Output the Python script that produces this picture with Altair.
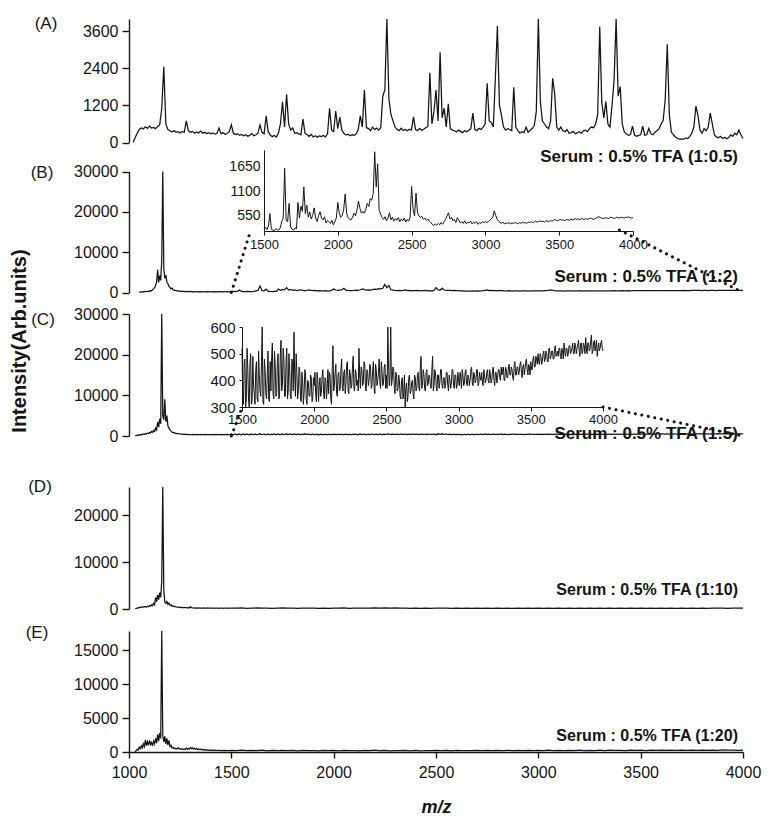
import altair as alt
import pandas as pd

FONT = "Liberation Sans"
INK = "#141414"

# ---------------- m/z grids ----------------
MZ_A = list(range(1020, 4001, 10))
MZ_B_LOW = list(range(1050, 1500, 5))
MZ_LOW = list(range(1030, 1500, 5))
MZ_INSET = list(range(1500, 4001, 10))
MZ_INSET_MID = list(range(1505, 4000, 10))
MZ_HIGH = list(range(1500, 4001, 25))

# ---------------- intensities ----------------
INT_A = [
    0, 150, 300, 420, 470, 440, 510, 460,
    530, 470, 490, 450, 520, 580, 1100, 2450, 600, 420,
    380, 340, 390, 330, 350, 310, 360, 330, 700, 380,
    330, 360, 300, 340, 310, 370, 300, 330, 290, 320,
    280, 310, 270, 300, 470, 280, 320, 260, 300, 350,
    570, 300, 260, 280, 230, 260, 220, 250, 200, 230,
    290, 220, 250, 300, 570, 330, 280, 860, 350, 240,
    190, 230, 180, 300, 600, 1320, 500, 1560, 600, 400,
    470, 300, 320, 280, 250, 760, 300, 250, 200, 260,
    180, 220, 170, 210, 190, 230, 180, 280, 1110, 400,
    350, 1020, 450, 820, 400, 300, 240, 270, 220, 250,
    230, 280, 420, 860, 500, 1700, 480, 450, 380, 500,
    420, 470, 400, 480, 1500, 1700, 4000, 1400, 900, 700,
    500, 420, 380, 460, 390, 420, 380, 430, 400, 830,
    420, 380, 460, 400, 430, 480, 520, 2260, 600, 1000,
    1700, 700, 2920, 800, 1110, 500, 1250, 450, 400, 380,
    340, 400, 360, 320, 380, 350, 400, 450, 950, 420,
    380, 460, 420, 500, 600, 1920, 700, 650, 500, 2080,
    3775, 1200, 870, 500, 400, 450, 420, 380, 1790, 500,
    380, 300, 350, 320, 500, 330, 400, 450, 550, 1000,
    4000, 1300, 700, 600, 500, 450, 700, 2080, 1570, 500,
    400, 500, 380, 350, 420, 300, 320, 360, 280, 310,
    350, 300, 380, 400, 350, 450, 500, 480, 600, 900,
    3750, 1300, 800, 1330, 600, 500, 1200, 2000, 4000, 1500,
    1810, 600, 340, 280, 230, 260, 530, 240, 200, 230,
    250, 530, 230, 260, 460, 280, 250, 330, 380, 450,
    600, 720, 1400, 3180, 900, 340, 250, 180, 130, 110,
    120, 100, 150, 130, 200, 300, 500, 1180, 870, 400,
    300, 450, 380, 500, 950, 600, 250, 180, 150, 200,
    130, 170, 120, 160, 250, 200, 300, 250, 400, 250,
    130,
]

INT_B_LOW = [
    0, 150, 100, 200, 150, 250, 200, 300, 250, 350,
    300, 500, 400, 700, 900, 1200, 1800, 2600, 5600, 2500,
    4200, 3000, 8000, 30000, 6000, 3500, 4300, 2600, 2200, 1500,
    1300, 900, 1100, 700, 600, 500, 450, 400, 380, 350,
    300, 350, 280, 300, 250, 300, 220, 250, 200, 230,
    200, 250, 180, 220, 160, 240, 200, 170, 230, 180,
    210, 160, 240, 190, 150, 220, 180, 200, 160, 230,
    190, 170, 210, 160, 200, 180, 220, 170, 250, 190,
    160, 210, 180, 230, 190, 170, 220, 180, 200, 240,
]

INT_B_INSET = [
    260, 300, 240, 320, 600, 250, 230, 220, 260, 240,
    230, 280, 420, 500, 1620, 450, 420, 830, 300, 250,
    230, 280, 260, 850, 500, 770, 650, 1200, 600, 790,
    520, 640, 480, 560, 730, 500, 420, 560, 640, 500,
    460, 530, 390, 450, 420, 380, 450, 350, 420, 500,
    850, 620, 520, 560, 700, 1040, 600, 510, 470, 460,
    520, 610, 550, 680, 880, 720, 610, 650, 610, 700,
    830, 760, 940, 900, 1050, 1990, 1200, 1720, 680, 590,
    510, 470, 530, 440, 500, 620, 460, 520, 430, 490,
    450, 510, 420, 480, 440, 500, 410, 470, 430, 520,
    1210, 700, 550, 1060, 620, 550, 510, 540, 470, 500,
    450, 480, 430, 400, 360, 330, 370, 340, 380, 350,
    400, 360, 420, 470, 550, 620, 480, 520, 440, 470,
    400, 510, 450, 390, 420, 380, 440, 370, 410, 390,
    430, 370, 410, 380, 420, 360, 400, 380, 420, 390,
    430, 400, 420, 450, 480, 520, 660, 560, 470, 430,
    400, 380, 410, 370, 390, 380, 400, 370, 390, 380,
    400, 390, 370, 400, 380, 410, 390, 400, 380, 410,
    400, 420, 400, 410, 430, 410, 420, 440, 420, 430,
    410, 440, 430, 420, 450, 430, 440, 470, 450, 440,
    460, 470, 450, 460, 440, 470, 460, 450, 480, 460,
    470, 490, 470, 480, 460, 490, 480, 470, 490, 470,
    480, 500, 490, 470, 480, 500, 520, 530, 510, 500,
    490, 500, 510, 490, 500, 520, 510, 490, 500, 520,
    510, 500, 520, 510, 500, 520, 510, 530, 510, 500,
    510,
]

INT_C_LOW = [
    0, 100, 200, 150, 300, 250, 400, 300, 500, 400,
    600, 500, 700, 600, 900, 700, 1100, 900, 1400, 1100,
    2000, 1500, 3500, 2200, 4200, 3000, 30000, 5000, 4000, 9000,
    3500, 5000, 2500, 2000, 1500, 1200, 1000, 800, 900, 700,
    600, 650, 550, 500, 520, 450, 480, 400, 430, 380,
    400, 350, 380, 330, 360,
    330, 380, 300, 370, 320, 390, 310, 360, 330, 400,
    300, 350, 320, 380, 310, 370, 330, 360, 300, 390,
    320, 350, 310, 380, 330, 370, 300, 360, 320, 390,
    310, 350, 330, 380, 300, 370, 320, 360, 340,
]

# inset C, values at 1500, 1510, ... 4000
INT_C_INSET = [
    520, 310, 480, 330, 450, 300, 500, 320, 380, 310,
    470, 320, 420, 340, 600, 310, 440, 330, 510, 320,
    360, 540, 330, 460, 350, 500, 340, 550, 380, 480,
    340, 520, 360, 450, 330, 470, 580, 340, 430, 360,
    440, 320, 400, 350, 420, 310, 390, 340, 410, 330,
    380, 350, 430, 320, 410, 360, 440, 330, 400, 370,
    350, 420, 310, 530, 380, 460, 340, 430, 370, 480,
    360, 440, 390, 470, 350, 420, 380, 490, 360, 430,
    400, 520, 370, 440, 390, 460, 360, 430, 400, 450,
    380, 470, 350, 440, 400, 480, 370, 430, 390, 460,
    420, 600, 380, 600, 400, 440, 350, 420, 370, 400,
    330, 410, 350, 300, 390, 340, 420, 360, 400, 330,
    410, 370, 430, 360, 490, 380, 420, 360, 440, 390,
    410, 370, 490, 380, 430, 360, 420, 390, 440, 370,
    410, 380, 430, 360, 400, 390, 440, 370, 420, 380,
    400, 430, 370, 420, 390, 440, 380, 410, 400, 450,
    380, 420, 400, 440, 390, 410, 430, 380, 420, 400,
    440, 390, 420, 400, 450, 380, 430, 410, 440, 400,
    420, 450, 400, 440, 410, 460, 420, 440, 400, 470,
    420, 450, 430, 470, 410, 460, 440, 480, 420, 450,
    470, 440, 490, 450, 480, 500, 460, 490, 470, 510,
    480, 500, 470, 520, 490, 510, 480, 530, 500, 490,
    520, 480, 510, 540, 490, 520, 500, 530, 510, 540,
    500, 530, 520, 550, 490, 540, 510, 530, 560, 500,
    540, 520, 570, 510, 550, 530, 490, 540, 520, 550,
    510,
]

# inset C, values at 1505, 1515, ... 3995
INT_C_INSET_MID = [
    340, 470, 300, 520, 330, 460, 310, 490, 350, 440,
    330, 510, 360, 470, 320, 480, 350, 420, 330, 470,
    480, 350, 510, 340, 470, 330, 490, 360, 520, 340,
    470, 330, 500, 340, 480, 360, 420, 500, 330, 450,
    330, 430, 310, 440, 330, 400, 340, 420, 320, 410,
    430, 320, 400, 380, 340, 420, 350, 410, 330, 440,
    430, 330, 450, 360, 430, 350, 420, 360, 440, 370,
    430, 350, 460, 360, 440, 370, 450, 370, 440, 380,
    360, 420, 450, 380, 470, 370, 440, 380, 460, 370,
    440, 370, 460, 380, 430, 390, 470, 380, 450, 370,
    370, 450, 420, 380, 450, 370, 430, 360, 420, 340,
    400, 330, 420, 370, 320, 410, 350, 390, 350, 420,
    360, 420, 370, 450, 370, 440, 370, 430, 380, 420,
    380, 440, 360, 440, 380, 420, 370, 440, 380, 410,
    370, 430, 380, 420, 370, 440, 380, 420, 370, 430,
    380, 410, 440, 380, 430, 390, 420, 380, 440, 390,
    430, 390, 440, 380, 430, 400, 390, 440, 390, 430,
    400, 440, 390, 440, 400, 430, 390, 440, 410, 450,
    440, 400, 450, 410, 450, 420, 450, 410, 460, 420,
    450, 420, 460, 430, 450, 420, 470, 440, 460, 420,
    440, 480, 450, 490, 460, 470, 500, 460, 500, 470,
    510, 470, 520, 480, 510, 480, 520, 490, 510, 520,
    490, 520, 480, 510, 520, 490, 530, 500, 520, 500,
    540, 500, 530, 510, 540, 500, 540, 500, 520, 540,
    510, 550, 500, 540, 510, 550, 520, 510, 540, 520,
]

INT_D_LOW = [
    0, 100, 200, 300, 250, 400, 350, 500, 400, 450,
    500, 400, 600, 500, 700, 600, 900, 700, 1200, 900,
    2500, 1500, 3000, 2000, 3500, 2500, 6000, 26000, 4000, 1500,
    1200, 1600, 1000, 1300, 800, 900, 600, 700, 500, 550,
    450, 400, 420, 350, 380, 320, 340, 300, 330, 280,
    300, 260, 280, 240, 500,
    260, 220, 250, 210, 240, 200, 230, 190, 220, 200,
    210, 180, 230, 190, 200, 170, 220, 180, 210, 170,
    200, 180, 190, 160, 210, 170, 200, 160, 190, 170,
    180, 160, 200, 170, 190, 160, 180, 170, 190,
]

INT_D_HIGH = [
    200, 160, 220, 150, 190, 230, 170, 210, 150, 200,
    250, 170, 200, 150, 190, 160, 210, 140, 180, 150,
    200, 170, 230, 150, 190, 160, 200, 170, 220, 180,
    250, 190, 220, 160, 190, 150, 180, 140, 170, 150,
    200, 160, 180, 140, 170, 130, 160, 140, 180, 150,
    170, 140, 190, 150, 160, 130, 170, 140, 200, 150,
    160, 130, 170, 140, 180, 150, 160, 130, 170, 140,
    190, 150, 170, 140, 160, 130, 180, 150, 170, 140,
    160, 130, 170, 150, 180, 140, 160, 130, 170, 150,
    180, 140, 170, 150, 190, 160, 180, 150, 170, 160,
    200,
]

INT_E_LOW = [
    0, 200, 400, 300, 700, 500, 900, 600, 1200, 800,
    1800, 900, 1500, 1000, 1700, 1100, 1400, 900, 1600, 1200,
    2000, 1300, 2600, 1600, 2800, 2000, 17800, 2500, 1500, 2300,
    1200, 2000, 1000, 1700, 800, 1000, 600, 700, 500, 550,
    450, 500, 650, 450, 500, 400, 450, 380, 420, 400,
    600, 420, 500, 450, 650,
    480, 600, 420, 550, 400, 500, 380, 450, 350, 400,
    320, 380, 300, 350, 280, 320, 260, 300, 250, 280,
    240, 270, 230, 260, 220, 250, 230, 240, 210, 250,
    220, 230, 200, 240, 210, 220, 200, 230, 210,
]

INT_E_HIGH = [
    250, 200, 280, 190, 240, 210, 260, 180, 230, 200,
    240, 190, 250, 180, 230, 200, 220, 170, 240, 190,
    230, 180, 250, 190, 220, 170, 240, 190, 260, 200,
    230, 180, 220, 190, 240, 170, 230, 180, 220, 190,
    240, 200, 230, 180, 250, 190, 220, 200, 240, 190,
    230, 200, 250, 190, 240, 210, 230, 200, 250, 210,
    240, 200, 260, 210, 250, 220, 240, 210, 260, 220,
    250, 210, 270, 220, 260, 230, 250, 220, 270, 230,
    260, 220, 280, 230, 270, 240, 260, 230, 280, 240,
    270, 250, 290, 240, 280, 250, 300, 260, 290, 250,
    280,
]

# zoom connectors (dotted), in the main panel's m/z / intensity units
CONN_B_MZ = [1500, 1592, 3396, 4000]
CONN_B_I = [0, 15000, 15500, 0]
CONN_C_MZ = [1500, 1548, 3316, 4000]
CONN_C_I = [0, 6400, 7130, 0]
CONN_SEG = ["left", "left", "right", "right"]

# text / ticks
PANEL_TAGS = ["(A)", "(B)", "(C)", "(D)", "(E)"]
SAMPLE_LABELS = [
    "Serum : 0.5% TFA (1:0.5)",
    "Serum : 0.5% TFA (1:2)",
    "Serum : 0.5% TFA (1:5)",
    "Serum : 0.5% TFA (1:10)",
    "Serum : 0.5% TFA (1:20)",
]
Y_MAX = [4000, 30000, 30000, 26000, 17800]
Y_TICKS = [
    [0, 1200, 2400, 3600],
    [0, 10000, 20000, 30000],
    [0, 10000, 20000, 30000],
    [0, 10000, 20000],
    [0, 5000, 10000, 15000],
]
X_TICKS = [1000, 1500, 2000, 2500, 3000, 3500, 4000]
INSET_X_TICKS = [1500, 2000, 2500, 3000, 3500, 4000]
INSET_B_YDOM = [210, 2030]
INSET_B_YTICKS = [550, 1100, 1650]
INSET_C_YDOM = [300, 600]
INSET_C_YTICKS = [300, 400, 500, 600]

assert len(INT_A) == len(MZ_A)
assert len(INT_B_LOW) == len(MZ_B_LOW)
assert len(INT_B_INSET) == len(MZ_INSET) == len(INT_C_INSET)
assert len(INT_C_INSET_MID) == len(MZ_INSET_MID)
assert len(INT_C_LOW) == len(MZ_LOW) == len(INT_D_LOW) == len(INT_E_LOW)
assert len(INT_D_HIGH) == len(MZ_HIGH) == len(INT_E_HIGH)

# ---------------- layout (style) ----------------
W, H = 614, 733
Y_RANGES = [[123.5, 0], [273.5, 152.5], [417, 295], [590, 468], [733, 612]]
INSET_B_XR, INSET_B_YR = [135, 504], [212, 131]
INSET_C_XR, INSET_C_YR = [113, 474], [388, 308]
TAG_POS = [(-83, 5), (-87, 154), (-86, 301), (-89, 468), (-92, 614)]
LABEL_POS = [(609, 138), (609, 258), (609, 414.5), (609, 571), (609, 717)]

df_inset_b = pd.DataFrame({"mz": MZ_INSET, "i": INT_B_INSET})
df_inset_c = pd.concat([
    pd.DataFrame({"mz": MZ_INSET, "i": INT_C_INSET}),
    pd.DataFrame({"mz": MZ_INSET_MID, "i": INT_C_INSET_MID}),
]).sort_values("mz")
frames = [
    pd.DataFrame({"mz": MZ_A, "i": INT_A}),
    pd.concat([pd.DataFrame({"mz": MZ_B_LOW, "i": INT_B_LOW}), df_inset_b]),
    pd.concat([pd.DataFrame({"mz": MZ_LOW, "i": INT_C_LOW}), df_inset_c]),
    pd.concat([pd.DataFrame({"mz": MZ_LOW, "i": INT_D_LOW}),
               pd.DataFrame({"mz": MZ_HIGH, "i": INT_D_HIGH})]),
    pd.concat([pd.DataFrame({"mz": MZ_LOW, "i": INT_E_LOW}),
               pd.DataFrame({"mz": MZ_HIGH, "i": INT_E_HIGH})]),
]


def y_axis(ticks, size=16, offset=0, tick=7, pad=4, show_ticks=True, width=1.4):
    return alt.Axis(orient="left", values=ticks, format="d", title=None, grid=False,
                    offset=offset, ticks=show_ticks, tickSize=tick, tickWidth=width,
                    tickColor=INK, domainColor=INK, domainWidth=width,
                    labelFont=FONT, labelFontSize=size, labelColor=INK,
                    labelPadding=pad, labelOverlap=False)


def main_x(axis=None):
    return alt.X("mz:Q", scale=alt.Scale(domain=[1000, 4000], nice=False, zero=False), axis=axis)


def main_y(k, axis=None):
    return alt.Y("i:Q", scale=alt.Scale(domain=[0, Y_MAX[k]], range=Y_RANGES[k],
                                        nice=False, zero=False), axis=axis)


bottom_axis = alt.Axis(orient="bottom", values=X_TICKS, format="d", title="m/z", grid=False,
                       titleFont=FONT, titleFontSize=18, titleFontStyle="italic",
                       titleFontWeight="bold", titleColor=INK, titlePadding=18,
                       labelFont=FONT, labelFontSize=16, labelColor=INK, labelPadding=6,
                       labelFlush=False, labelOverlap=False, tickSize=6, tickWidth=1.4,
                       tickColor=INK, domainColor=INK, domainWidth=1.4)

layers = []
for k, df in enumerate(frames):
    layers.append(
        alt.Chart(df).mark_line(color=INK, strokeWidth=1.25).encode(
            x=main_x(bottom_axis if k == 4 else None),
            y=main_y(k, y_axis(Y_TICKS[k])),
            order="mz:Q",
        )
    )


def inset(df, ydom, xr, yr, yticks, ysize, xsize, ytick, xlabpad, lw):
    return alt.Chart(df).mark_line(color=INK, strokeWidth=lw).encode(
        x=alt.X("mz:Q", scale=alt.Scale(domain=[1500, 4000], range=xr, nice=False, zero=False),
                axis=alt.Axis(orient="bottom", offset=yr[0] - H, values=INSET_X_TICKS,
                              format="d", title=None, grid=False, tickSize=4, tickWidth=1,
                              tickColor=INK, domainColor=INK, domainWidth=1,
                              labelFont=FONT, labelFontSize=xsize, labelColor=INK,
                              labelPadding=xlabpad, labelFlush=False, labelOverlap=False)),
        y=alt.Y("i:Q", scale=alt.Scale(domain=ydom, range=yr, nice=False, zero=False),
                axis=y_axis(yticks, size=ysize, offset=-xr[0], tick=ytick, pad=4,
                            show_ticks=ytick > 0, width=1)),
        order="mz:Q",
    )


layers.append(inset(df_inset_b, INSET_B_YDOM, INSET_B_XR, INSET_B_YR, INSET_B_YTICKS, 14, 13, 0, 3, 1.0))
layers.append(inset(df_inset_c, INSET_C_YDOM, INSET_C_XR, INSET_C_YR, INSET_C_YTICKS, 15, 13, 3, 2, 1.0))

for k, (mzs, ints) in {1: (CONN_B_MZ, CONN_B_I), 2: (CONN_C_MZ, CONN_C_I)}.items():
    cdf = pd.DataFrame({"mz": mzs, "i": ints, "seg": CONN_SEG})
    layers.append(
        alt.Chart(cdf).mark_line(color=INK, strokeWidth=3, strokeCap="round",
                                 strokeDash=[0.1, 6.5]).encode(
            x=main_x(None), y=main_y(k, None), detail="seg:N")
    )


def text_layer(text, x, y, size, weight="normal", align="center", angle=0):
    return alt.Chart(pd.DataFrame({"t": [text]})).mark_text(
        font=FONT, fontSize=size, fontWeight=weight, align=align, baseline="middle",
        angle=angle, color=INK).encode(text="t:N", x=alt.value(x), y=alt.value(y))


for k in range(5):
    layers.append(text_layer(PANEL_TAGS[k], TAG_POS[k][0], TAG_POS[k][1], 17))
    layers.append(text_layer(SAMPLE_LABELS[k], LABEL_POS[k][0], LABEL_POS[k][1],
                             17 if k < 3 else 16, weight="bold", align="right"))

layers.append(text_layer("Intensity(Arb.units)", -109, 322, 20, weight="bold", angle=270))

chart = (
    alt.layer(*layers)
    .resolve_scale(x="independent", y="independent")
    .properties(width=W, height=H, autosize=alt.AutoSizeParams(type="none"),
                padding={"left": 121, "top": 11, "right": 19, "bottom": 76})
    .configure_view(stroke=None)
)

chart.save("out.html", embed_options={"renderer": "svg", "actions": False})
